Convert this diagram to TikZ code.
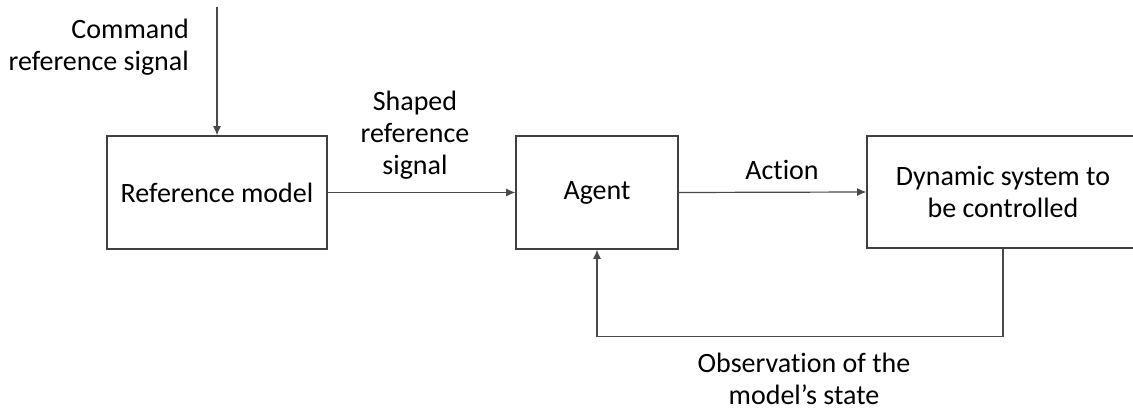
\documentclass[tikz,border=0pt]{standalone}
\usepackage{fontspec}
\setmainfont[Ligatures=CommonOff]{Carlito}
\usetikzlibrary{arrows.meta}
\definecolor{edge}{HTML}{404040}
\definecolor{wire}{HTML}{4A4A4A}
\begin{document}
\begin{tikzpicture}[x=0.75pt,y=-0.75pt,
  every node/.style={font=\fontsize{21}{24}\selectfont, text=black},
  block/.style={draw=edge, line width=0.9pt, rectangle, inner sep=0pt, align=center},
  flow/.style={draw=wire, line width=0.9pt, -{Latex[length=7pt,width=6pt]}},
  lbl/.style={align=center, inner sep=0pt}]
  \useasboundingbox (0,0) rectangle (1133,410);
  \clip (0,0) rectangle (1133,410);

  % blocks
  \node[block, minimum width=165pt, minimum height=84.75pt] (ref) at (217,192.5) {Reference model};
  \node[block, minimum width=121.5pt, minimum height=84.75pt] (agent) at (597,192.5) {Agent};
  \node[block, minimum width=204pt, minimum height=84pt] (dyn) at (1003,192) {Dynamic system to\\be controlled};

  % command input
  \coordinate (cmd) at (217,7);
  \draw[flow] (cmd) -- (ref.north);
  \node[lbl, align=right, anchor=east] (cmdlbl) at (189,47) {Command\\reference signal};

  % forward path
  \draw[flow] (ref.east) -- (agent.west);
  \node[lbl] (shaped) at (415,135) {Shaped\\reference\\signal};
  \draw[flow] (agent.east) -- (dyn.west);
  \node[lbl] (action) at (782,170) {Action};

  % feedback path
  \draw[flow] (dyn.south) -- ++(0,88) -| (agent.south);
  \node[lbl] (obs) at (804,379) {Observation of the\\model’s state};
\end{tikzpicture}
\end{document}
